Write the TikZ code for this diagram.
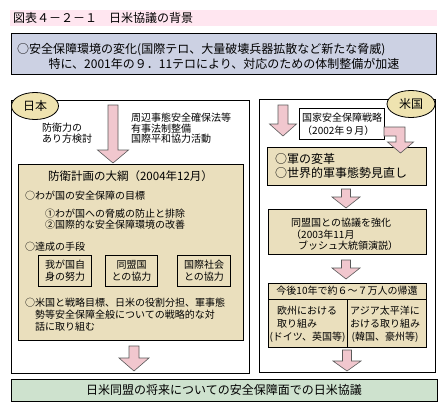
\documentclass[tikz,border=0pt]{standalone}
\usepackage{fontspec}
\setmainfont{Noto Sans CJK JP}
\usepackage{xcolor}
\usepackage{tikz}
\usetikzlibrary{shapes.geometric}
\definecolor{titlepink}{RGB}{255,230,240}
\definecolor{topblue}{RGB}{204,209,227}
\definecolor{tanfill}{RGB}{234,223,189}
\definecolor{ovalfill}{RGB}{239,227,176}
\definecolor{arrowpink}{RGB}{241,199,206}
\definecolor{greenfill}{RGB}{206,226,206}
\tikzstyle{panel}=[draw=black, fill=white, line width=0.8pt, inner sep=0]
\tikzstyle{title band}=[fill=titlepink, inner sep=0]
\tikzstyle{top box}=[panel, fill=topblue]
\tikzstyle{tan box}=[panel, fill=tanfill]
\tikzstyle{green box}=[panel, fill=greenfill]
\tikzstyle{oval}=[draw=black, fill=ovalfill, line width=0.8pt, shape=ellipse, inner sep=0, font=\fontsize{12}{14}\selectfont]
\tikzstyle{body}=[inner sep=0, align=left, font=\fontsize{10}{11}\selectfont]
\tikzstyle{big}=[inner sep=0, align=left, font=\fontsize{12}{14}\selectfont]
\tikzstyle{pink arrow}=[draw=black!65, fill=arrowpink, line width=0.6pt, line join=miter]
\pgfdeclarelayer{nodelayer}
\pgfdeclarelayer{edgelayer}
\pgfsetlayers{nodelayer,edgelayer,main}

\begin{document}
\begin{tikzpicture}[x=1pt, y=-1pt]
	\useasboundingbox (0, 0) rectangle (446, 413);
	\begin{pgfonlayer}{nodelayer}
		\node [style=title band, minimum width=427, minimum height=16] (0) at (223.5, 18) {};
		\node [style=big, anchor=west] (1) at (13, 18) {図表４－２－１　日米協議の背景};
		\node [style=top box, minimum width=425, minimum height=41] (2) at (223.5, 53.5) {};
		\node [style=big, anchor=west] (3) at (17, 50) {○安全保障環境の変化(国際テロ、大量破壊兵器拡散など新たな脅威)};
		\node [style=big] (4) at (224, 64) {特に、2001年の９．11テロにより、対応のための体制整備が加速};
		% Japan side
		\node [style=panel, minimum width=238, minimum height=273] (5) at (130, 236.5) {};
		\node [style=oval, minimum width=47, minimum height=27] (6) at (35, 106) {日本};
		\node [style=body, anchor=west] (7) at (42, 133.5) {防衛力の\\あり方検討};
		\node [style=body, anchor=west, font=\fontsize{10}{10.5}\selectfont] (8) at (131, 128.5) {周辺事態安全確保法等\\有事法制整備\\国際平和協力活動};
		\node [style=tan box, minimum width=225, minimum height=176] (9) at (130.5, 252) {};
		\node [style=big, font=\fontsize{11.5}{14}\selectfont] (10) at (130.5, 176) {防衛計画の大綱（2004年12月）};
		\node [style=body, anchor=west] (11) at (25, 196) {○わが国の安全保障の目標};
		\node [style=body, anchor=west] (12) at (45, 219) {①わが国への脅威の防止と排除\\②国際的な安全保障環境の改善};
		\node [style=body, anchor=west] (13) at (25, 247) {○達成の手段};
		\node [style=tan box, body, align=center, font=\fontsize{10}{12}\selectfont, minimum width=53, minimum height=31] (14) at (65, 270.5) {我が国自\\身の努力};
		\node [style=tan box, body, align=center, font=\fontsize{10}{12}\selectfont, minimum width=52, minimum height=31] (15) at (131.5, 270.5) {同盟国\\との協力};
		\node [style=tan box, body, align=center, font=\fontsize{10}{12}\selectfont, minimum width=53, minimum height=31] (16) at (204, 270.5) {国際社会\\との協力};
		\node [style=body, anchor=west, font=\fontsize{10}{12}\selectfont] (17) at (25, 315) {○米国と戦略目標、日米の役割分担、軍事態\\\hspace*{10pt}勢等安全保障全般についての戦略的な対\\\hspace*{10pt}話に取り組む};
		% US side
		\node [style=panel, minimum width=176, minimum height=273] (18) at (347, 235.5) {};
		\node [style=oval, minimum width=48, minimum height=27] (19) at (411, 104) {米国};
		\node [style=panel, minimum width=85, minimum height=31] (20) at (341.5, 123.5) {};
		\node [style=body, anchor=west, font=\fontsize{10}{13}\selectfont] (21) at (302, 124.5) {国家安全保障戦略\\（2002年９月）};
		\node [style=tan box, minimum width=159, minimum height=38] (22) at (346.5, 166) {};
		\node [style=big, anchor=west] (23) at (275, 165.5) {○軍の変革\\○世界的軍事態勢見直し};
		\node [style=tan box, minimum width=158, minimum height=45] (24) at (347, 231.5) {};
		\node [style=body, anchor=west, font=\fontsize{10}{11.5}\selectfont] (25) at (291, 234.5) {同盟国との協議を強化\\（2003年11月\\\hspace*{7pt}ブッシュ大統領演説）};
		\node [style=tan box, minimum width=158, minimum height=64] (26) at (347, 315) {};
		\node [style=body] (27) at (347, 291) {今後10年で約６～７万人の帰還};
		\node [style=body, anchor=west, font=\fontsize{10}{13.5}\selectfont] (28) at (277, 317) {欧州における\\取り組み};
		\node [style=body] (29) at (307.5, 337.5) {(ドイツ、英国等)};
		\node [style=body, anchor=west, font=\fontsize{10}{13.5}\selectfont] (30) at (350, 317) {アジア太平洋に\\おける取り組み};
		\node [style=body] (31) at (385, 337.5) {(韓国、豪州等)};
		\draw [line width=0.8pt] (268, 299) -- (426, 299);
		\draw [line width=0.8pt] (347, 299) -- (347, 347);
		% bottom
		\node [style=green box, big, align=center, minimum width=426, minimum height=22] (32) at (224, 390) {日米同盟の将来についての安全保障面での日米協議};
	\end{pgfonlayer}
	\begin{pgfonlayer}{edgelayer}
		\draw [style=pink arrow] (108, 105) -- (118, 105) -- (118, 150) -- (128.5, 150) -- (113, 163) -- (97.5, 150) -- (108, 150) -- cycle;
		\draw [style=pink arrow] (129, 346) -- (139, 346) -- (139, 358) -- (149, 358) -- (134, 371) -- (119, 358) -- (129, 358) -- cycle;
		\draw [style=pink arrow] (278, 105) -- (288, 105) -- (288, 124) -- (296.5, 124) -- (283, 136) -- (269.5, 124) -- (278, 124) -- cycle;
		\draw [style=pink arrow] (384, 127) -- (405, 127) -- (405, 142) -- (413.5, 142) -- (400.5, 153) -- (387.5, 142) -- (396, 142) -- (396, 136) -- (384, 136) -- cycle;
		\draw [style=pink arrow] (341.5, 189) -- (350.5, 189) -- (350.5, 197) -- (360, 197) -- (346, 208) -- (332, 197) -- (341.5, 197) -- cycle;
		\draw [style=pink arrow] (341.5, 260) -- (350.5, 260) -- (350.5, 268) -- (360, 268) -- (346, 279) -- (332, 268) -- (341.5, 268) -- cycle;
		\draw [style=pink arrow] (342.5, 350) -- (351.5, 350) -- (351.5, 361) -- (361, 361) -- (347, 371) -- (333, 361) -- (342.5, 361) -- cycle;
	\end{pgfonlayer}
\end{tikzpicture}
\end{document}
